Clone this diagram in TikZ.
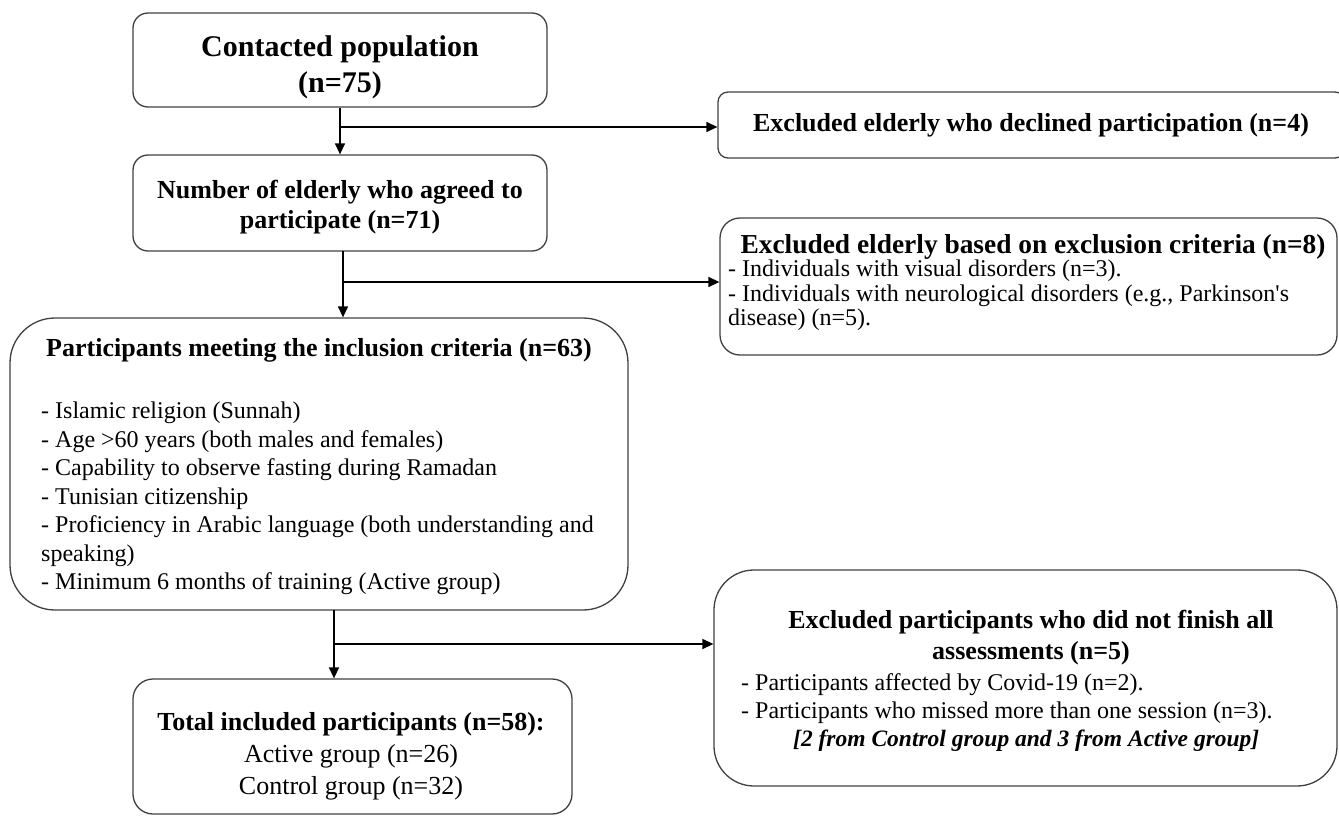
\documentclass[tikz,border=0pt]{standalone}
\usepackage{fontspec}
\setmainfont{Liberation Serif}
\usetikzlibrary{arrows.meta,calc}
\begin{document}
\begin{tikzpicture}[x=1pt,y=-1pt,
  box/.style={draw=black!75, line width=1.3pt, rounded corners=#1, inner sep=0pt},
  box/.default=15pt,
  arr/.style={line width=1.3pt, -{Triangle[length=11pt,width=10pt]}},
  hd/.style={font=\bfseries\fontsize{26}{30}\selectfont, align=center, inner sep=0pt},
  bd/.style={font=\fontsize{24}{28.5}\selectfont, align=left, inner sep=0pt, anchor=north west},
]
\useasboundingbox (0,0) rectangle (1339,817);

% boxes
\node[box=15pt, minimum width=414pt, minimum height=94pt] (b1) at (340,60) {};
\node[box=15pt, minimum width=414pt, minimum height=96pt] (b2) at (340,203) {};
\node[box=10pt, minimum width=627pt, minimum height=66pt] (dec) at (1031.5,125) {};
\node[box=20pt, minimum width=617pt, minimum height=137pt] (crit) at (1028.5,286.5) {};
\node[box=45pt, minimum width=618pt, minimum height=292pt] (b3) at (319,464) {};
\node[box=40pt, minimum width=623pt, minimum height=216pt] (exc) at (1025.5,678) {};
\node[box=20pt, minimum width=439pt, minimum height=135pt] (b4) at (352.5,746.5) {};

% texts
\node[hd, font=\bfseries\fontsize{30}{36}\selectfont] (t1) at (340,67) {Contacted population\\(n=75)};
\node[hd] (t2) at (340,207) {Number of elderly who agreed to\\participate (n=71)};
\node[hd] (tdec) at (1031,125) {Excluded elderly who declined participation (n=4)};
\node[hd, font=\bfseries\fontsize{27.4}{30}\selectfont] (tcrit) at (1033,247) {Excluded elderly based on exclusion criteria (n=8)};
\node[bd, font=\fontsize{24}{24.5}\selectfont] (bcrit) at (728,260) {- Individuals with visual disorders (n=3).\\- Individuals with neurological disorders (e.g., Parkinson\textquotesingle s\\disease) (n=5).};
\node[hd] (t3) at (319,350) {Participants meeting the inclusion criteria (n=63)};
\node[bd] (l3) at (41,402) {- Islamic religion (Sunnah)\\- Age >60 years (both males and females)\\- Capability to observe fasting during Ramadan\\- Tunisian citizenship\\- Proficiency in Arabic language (both understanding and\\speaking)\\- Minimum 6 months of training (Active group)};
\node[hd, font=\bfseries\fontsize{26}{31}\selectfont] (texc) at (1031,638) {Excluded participants who did not finish all\\assessments (n=5)};
\node[bd, font=\fontsize{24}{28}\selectfont] (bexc) at (741,673) {- Participants affected by Covid-19 (n=2).\\- Participants who missed more than one session (n=3).\\\hspace*{52pt}{\fontsize{23.5}{28}\selectfont\textbf{\textit{[2 from Control group and 3 from Active group]}}}};
\node[hd, font=\fontsize{26}{32}\selectfont] (t4) at (351,756) {\textbf{Total included participants (n=58):}\\Active group (n=26)\\Control group (n=32)};

% connectors
\coordinate (j1) at (340,127);
\coordinate (s2) at (343,251);
\coordinate (j2) at (343,282);
\coordinate (s3) at (334,610);
\coordinate (j3) at (334,644);
\draw[arr] (b1.south) -- (b2.north);
\draw[arr] (j1) -- (j1 -| dec.west);
\draw[arr] (s2) -- (s2 |- b3.north);
\draw[arr] (j2) -- (j2 -| crit.west);
\draw[arr] (s3) -- (s3 |- b4.north);
\draw[arr] (j3) -- (j3 -| exc.west);
\end{tikzpicture}
\end{document}
